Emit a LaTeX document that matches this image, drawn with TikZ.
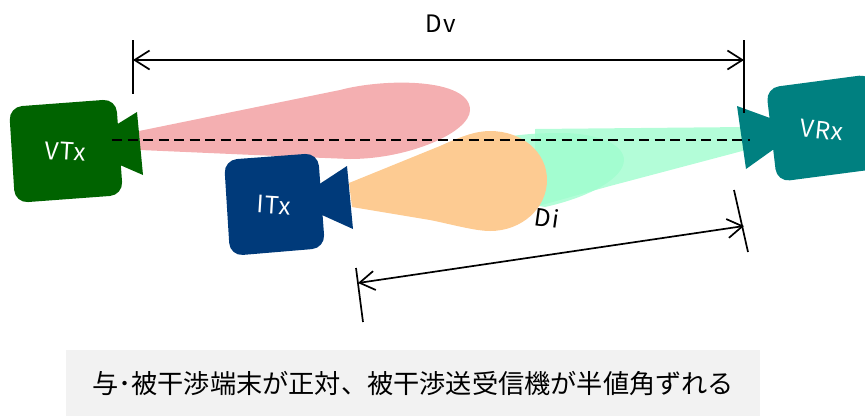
\documentclass[tikz,border=0pt]{standalone}
\usepackage{fontspec}
\setmainfont{Noto Sans CJK JP}
\newfontfamily\spacedfont[LetterSpace=5]{Noto Sans CJK JP}
\usetikzlibrary{arrows.meta}
\definecolor{vtxc}{RGB}{0,99,0}
\definecolor{itxc}{RGB}{0,58,122}
\definecolor{vrxc}{RGB}{0,128,128}
\definecolor{pinkl}{RGB}{244,175,177}
\definecolor{orangel}{RGB}{253,203,146}
\definecolor{greenl}{RGB}{159,253,206}
\definecolor{greybar}{RGB}{242,242,242}
\tikzset{
  body/.style={rounded corners=13pt},
  camlabel/.style={text=white,font=\spacedfont\fontsize{24}{28}\selectfont,inner sep=0pt},
  dimlabel/.style={text=black,font=\spacedfont\fontsize{24}{28}\selectfont,inner sep=0pt},
  tick/.style={line width=1.7pt,black},
  dimarrow/.style={line width=1.7pt,black,{Straight Barb[length=15pt,width=19pt]}-{Straight Barb[length=15pt,width=19pt]}},
}
\begin{document}
\begin{tikzpicture}[x=1pt,y=-1pt]
\useasboundingbox (0,0) rectangle (865,416);
\clip (0,0) rectangle (865,416);
% lobes
\fill[pinkl] (139,131) -- (340,90) .. controls (385,78) and (470,78) .. (470,110)
  .. controls (470,132) and (410,159) .. (350,159) -- (300,157) -- (140,150) -- cycle;
\fill[greenl,fill opacity=.79] (535,129) -- (746,127) -- (746,150) -- (610,186) -- (535,207) -- cycle;
\fill[greenl,fill opacity=.79] (505,137) .. controls (530,133) and (550,133) .. (565,133)
  .. controls (600,134) and (624,145) .. (624,160)
  .. controls (624,178) and (590,197) .. (545,207) -- (505,200) -- cycle;
\fill[orangel] (349,183) -- (440,146) .. controls (460,137) and (475,131) .. (490,131)
  .. controls (522,131) and (547,152) .. (547,180)
  .. controls (547,208) and (522,231) .. (490,231)
  .. controls (475,231) and (450,224) .. (430,220) -- (352,207) -- cycle;
% cameras
\fill[vtxc,body] (9,107) -- (116,99) -- (123,195) -- (15,203) -- cycle;
\fill[vtxc] (116,125) -- (137,112) -- (143,175) -- (120,165) -- cycle;
\fill[itxc,body] (224,160) -- (318,153) -- (325,248) -- (230,256) -- cycle;
\fill[itxc] (318,185) -- (347,166) -- (353,229) -- (322,215) -- cycle;
\fill[vrxc,body] (766,88) -- (872,74) -- (884,168) -- (777,182) -- cycle;
\fill[vrxc] (770,118) -- (737,106) -- (746,169) -- (774,149) -- cycle;
% sight line
\coordinate (sightA) at (112,140);
\coordinate (sightB) at (750,140);
\draw[line width=1.7pt,black,dash pattern=on 10pt off 5.5pt] (sightA) -- (sightB);
% labels
\node[camlabel,rotate=-3.5] (lvtx) at (65.5,151.5) {VTx};
\node[camlabel,rotate=-3.5] (litx) at (274,205) {ITx};
\node[camlabel,rotate=-6] (lvrx) at (822,130) {VRx};
\node[dimlabel] (ldv) at (441,24) {Dv};
\node[dimlabel,rotate=-8] (ldi) at (547,218) {Di};
% dimensions
\coordinate (t1a) at (133,40); \coordinate (t1b) at (133,94);
\coordinate (t2a) at (744,40); \coordinate (t2b) at (744,113);
\coordinate (d1) at (133,60); \coordinate (d2) at (744,60);
\draw[tick] (t1a) -- (t1b);
\draw[tick] (t2a) -- (t2b);
\draw[dimarrow] (d1) -- (d2);
\coordinate (t3a) at (356,268); \coordinate (t3b) at (363,322);
\coordinate (t4a) at (734,190); \coordinate (t4b) at (748,252);
\coordinate (d3) at (358,283); \coordinate (d4) at (744,226);
\draw[tick] (t3a) -- (t3b);
\draw[tick] (t4a) -- (t4b);
\draw[dimarrow] (d3) -- (d4);
% caption
\node[fill=greybar,minimum width=694pt,minimum height=66pt,inner sep=0pt,anchor=north west,
  font=\fontsize{26.2}{30}\selectfont] (cap) at (66,350) {与･被干渉端末が正対、被干渉送受信機が半値角ずれる};
\end{tikzpicture}
\end{document}
